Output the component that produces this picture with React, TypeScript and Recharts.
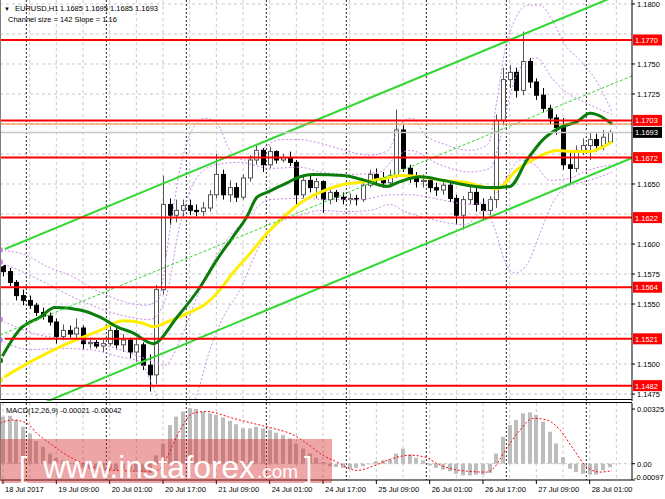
import React from 'react'
import { ComposedChart, Bar, Line, XAxis, YAxis, CartesianGrid, ReferenceLine } from 'recharts'

const FONT = '"Liberation Sans", Arial, sans-serif'

// EURUSD H1, drawn as 2-hour candles; x is hours since 18 Jul 17:00
const open = [1.1582, 1.1577, 1.1568, 1.1557, 1.1553, 1.1549, 1.1543, 1.1540, 1.1535, 1.1523,
  1.1528, 1.1525, 1.1530, 1.1517, 1.1518, 1.1515, 1.1517, 1.1528, 1.1516, 1.1520,
  1.1510, 1.1516, 1.1499, 1.1491, 1.1562, 1.1633, 1.1624, 1.1628, 1.1632, 1.1628,
  1.1627, 1.1630, 1.1641, 1.1658, 1.1641, 1.1647, 1.1639, 1.1655, 1.1670, 1.1678,
  1.1666, 1.1677, 1.1670, 1.1672, 1.1668, 1.1641, 1.1653, 1.1647, 1.1652, 1.1637,
  1.1643, 1.1639, 1.1637, 1.1638, 1.1637, 1.1649, 1.1658, 1.1653, 1.1651, 1.1657,
  1.1695, 1.1663, 1.1655, 1.1652, 1.1653, 1.1647, 1.1645, 1.1649, 1.1638, 1.1624,
  1.1637, 1.1643, 1.1633, 1.1628, 1.1637, 1.1703, 1.1737, 1.1743, 1.1728, 1.1752,
  1.1735, 1.1724, 1.1713, 1.1705, 1.1697, 1.1666, 1.1663, 1.1678, 1.1682, 1.1687,
  1.1682, 1.1685]
const high = [1.1585, 1.1580, 1.1570, 1.1562, 1.1557, 1.1551, 1.1547, 1.1543, 1.1538, 1.1533,
  1.1532, 1.1538, 1.1532, 1.1522, 1.1520, 1.1520, 1.1532, 1.1530, 1.1525, 1.1522,
  1.1522, 1.1518, 1.1508, 1.1566, 1.1657, 1.1638, 1.1637, 1.1637, 1.1637, 1.1633,
  1.1635, 1.1645, 1.1675, 1.1662, 1.1653, 1.1651, 1.1658, 1.1674, 1.1682, 1.1680,
  1.1681, 1.1678, 1.1675, 1.1677, 1.1670, 1.1658, 1.1657, 1.1655, 1.1653, 1.1647,
  1.1645, 1.1643, 1.1642, 1.1641, 1.1652, 1.1662, 1.1663, 1.1660, 1.1662, 1.1712,
  1.1699, 1.1666, 1.1660, 1.1658, 1.1655, 1.1651, 1.1653, 1.1653, 1.1641, 1.1640,
  1.1649, 1.1647, 1.1638, 1.1640, 1.1708, 1.1747, 1.1749, 1.1747, 1.1777, 1.1755,
  1.1738, 1.1730, 1.1716, 1.1708, 1.1705, 1.1677, 1.1682, 1.1688, 1.1693, 1.1692,
  1.1695, 1.1695]
const low = [1.1573, 1.1565, 1.1553, 1.1549, 1.1546, 1.1540, 1.1537, 1.1532, 1.1517, 1.1520,
  1.1522, 1.1520, 1.1512, 1.1513, 1.1513, 1.1510, 1.1515, 1.1512, 1.1510, 1.1505,
  1.1502, 1.1495, 1.1477, 1.1483, 1.1558, 1.1616, 1.1618, 1.1623, 1.1624, 1.1623,
  1.1623, 1.1627, 1.1638, 1.1637, 1.1635, 1.1635, 1.1637, 1.1652, 1.1666, 1.1660,
  1.1663, 1.1667, 1.1668, 1.1665, 1.1631, 1.1638, 1.1643, 1.1638, 1.1626, 1.1633,
  1.1635, 1.1633, 1.1633, 1.1632, 1.1635, 1.1647, 1.1650, 1.1647, 1.1647, 1.1655,
  1.1660, 1.1651, 1.1647, 1.1647, 1.1643, 1.1640, 1.1641, 1.1635, 1.1616, 1.1612,
  1.1633, 1.1627, 1.1620, 1.1624, 1.1630, 1.1699, 1.1730, 1.1722, 1.1724, 1.1730,
  1.1720, 1.1710, 1.1700, 1.1691, 1.1662, 1.1651, 1.1660, 1.1674, 1.1670, 1.1677,
  1.1678, 1.1685]
const close = [1.1577, 1.1568, 1.1557, 1.1553, 1.1549, 1.1543, 1.1540, 1.1535, 1.1523, 1.1528,
  1.1525, 1.1530, 1.1517, 1.1518, 1.1515, 1.1517, 1.1528, 1.1516, 1.1520, 1.1510,
  1.1516, 1.1499, 1.1491, 1.1562, 1.1633, 1.1624, 1.1628, 1.1632, 1.1628, 1.1627,
  1.1630, 1.1641, 1.1658, 1.1641, 1.1647, 1.1639, 1.1655, 1.1670, 1.1678, 1.1666,
  1.1677, 1.1670, 1.1672, 1.1668, 1.1641, 1.1653, 1.1647, 1.1652, 1.1637, 1.1643,
  1.1639, 1.1637, 1.1638, 1.1637, 1.1649, 1.1658, 1.1653, 1.1651, 1.1657, 1.1695,
  1.1663, 1.1655, 1.1652, 1.1653, 1.1647, 1.1645, 1.1649, 1.1638, 1.1624, 1.1637,
  1.1643, 1.1633, 1.1628, 1.1637, 1.1703, 1.1737, 1.1743, 1.1728, 1.1752, 1.1735,
  1.1724, 1.1713, 1.1705, 1.1697, 1.1666, 1.1663, 1.1678, 1.1682, 1.1687, 1.1682,
  1.1689, 1.1693]
const macd = [0.00280, 0.00285, 0.00260, 0.00220, 0.00180, 0.00135, 0.00100, 0.00060, 0.00035, 0.00020,
  0.00005, -0.00010, -0.00025, -0.00030, -0.00035, -0.00040, -0.00035, -0.00040, -0.00040, -0.00045,
  -0.00045, -0.00050, -0.00055, 0.00050, 0.00120, 0.00230, 0.00280, 0.00310, 0.00330, 0.00325,
  0.00310, 0.00300, 0.00290, 0.00275, 0.00255, 0.00235, 0.00210, 0.00210, 0.00220, 0.00210,
  0.00200, 0.00185, 0.00170, 0.00150, 0.00120, 0.00090, 0.00060, 0.00035, 0.00010, -0.00015,
  -0.00020, -0.00025, -0.00030, -0.00025, -0.00015, 0.00000, 0.00015, 0.00020, 0.00025, 0.00060,
  0.00090, 0.00055, 0.00035, 0.00020, -0.00010, -0.00025, -0.00035, -0.00045, -0.00060, -0.00070,
  -0.00070, -0.00065, -0.00065, -0.00055, 0.00060, 0.00160, 0.00230, 0.00260, 0.00300, 0.00305,
  0.00290, 0.00250, 0.00190, 0.00120, 0.00040, -0.00030, -0.00050, -0.00060, -0.00065, -0.00065,
  -0.00040, -0.00021]

// [hour, value] points of the indicator lines
const greenMa = [[-0.9, 1.1503], [5.1, 1.1529], [11.1, 1.1539], [15.6, 1.1547], [23.1, 1.1545], [29.1, 1.1539],
  [34.2, 1.1531], [39, 1.1526], [45, 1.1517], [52.2, 1.1539], [59.1, 1.1564], [64.2, 1.1587], [69, 1.1606],
  [73.2, 1.1623], [76.2, 1.1639], [79.2, 1.1643], [85.2, 1.1651], [89.1, 1.1656], [93, 1.1658], [102, 1.1657],
  [108.6, 1.1653], [115.2, 1.1648], [119.1, 1.1652], [125.1, 1.1656], [132, 1.1653], [139.2, 1.1649],
  [146.1, 1.1647], [152.1, 1.1648], [157.2, 1.1670], [162, 1.1687], [167.1, 1.1697], [172.2, 1.1702],
  [176.1, 1.1709], [182.7, 1.1700]]
const yellowMa = [[-0.9, 1.1487], [9, 1.1503], [19.2, 1.1517], [29.1, 1.1528], [36, 1.1536], [42, 1.1534],
  [45, 1.1531], [49.2, 1.1535], [55.2, 1.1542], [61.2, 1.1551], [65.1, 1.1562], [69, 1.1576], [74.1, 1.1592],
  [79.2, 1.1609], [84, 1.1622], [89.1, 1.1634], [94.2, 1.1642], [101.1, 1.1649], [109.2, 1.1652],
  [115.2, 1.1655], [119.1, 1.1657], [125.1, 1.1656], [132, 1.1653], [139.2, 1.1651], [145.2, 1.1647],
  [148.2, 1.1646], [154.2, 1.1662], [160.2, 1.1672], [166.2, 1.1678], [171, 1.1677], [176.1, 1.1677],
  [180, 1.1681], [182.7, 1.1685]]
const bandUpper = [[-0.9, 1.1595], [6.6, 1.1591], [14.1, 1.1580], [20.1, 1.1574], [27.6, 1.1562], [35.1, 1.1553],
  [42.6, 1.1549], [46.5, 1.1553], [50.1, 1.1612], [53.1, 1.1662], [56.7, 1.1695], [60.6, 1.1705], [64.5, 1.1699],
  [68.1, 1.1678], [72.6, 1.1670], [77.1, 1.1678], [83.1, 1.1687], [89.1, 1.1687], [95.1, 1.1684], [102.6, 1.1678],
  [110.1, 1.1674], [115.5, 1.1678], [119.1, 1.1699], [122.7, 1.1705], [126.6, 1.1691], [132.6, 1.1683],
  [140.1, 1.1678], [145.5, 1.1683], [148.2, 1.1720], [150.6, 1.1762], [153.6, 1.1787], [157.5, 1.1799],
  [161.1, 1.1799], [164.7, 1.1787], [168.6, 1.1766], [173.1, 1.1753], [178.2, 1.1735], [182.7, 1.1710]]
const bandLower = [[-0.9, 1.1520], [8.1, 1.1512], [17.1, 1.1513], [26.1, 1.1512], [35.1, 1.1506], [41.1, 1.1502],
  [44.7, 1.1483], [47.1, 1.1466], [51.6, 1.1449], [57.6, 1.1470], [62.1, 1.1512], [65.7, 1.1537], [71.1, 1.1562],
  [77.1, 1.1599], [83.1, 1.1618], [89.1, 1.1624], [95.1, 1.1628], [102.6, 1.1627], [110.1, 1.1628],
  [116.1, 1.1633], [120.6, 1.1627], [126.6, 1.1622], [132.6, 1.1618], [138.6, 1.1616], [144.6, 1.1628],
  [147.6, 1.1612], [150.6, 1.1585], [153.6, 1.1576], [157.2, 1.1583], [161.1, 1.1609], [164.7, 1.1633],
  [168.6, 1.1647], [173.1, 1.1651], [178.2, 1.1655], [182.7, 1.1660]]
const innerUpper = [[-0.9, 1.1585], [11.1, 1.1570], [23.1, 1.1553], [35.1, 1.1541], [44.1, 1.1537], [48.6, 1.1553],
  [53.1, 1.1616], [57.6, 1.1653], [63.6, 1.1666], [71.1, 1.1668], [80.1, 1.1663], [89.1, 1.1664], [95.1, 1.1660],
  [104.1, 1.1658], [113.1, 1.1660], [117.6, 1.1672], [122.1, 1.1678], [131.1, 1.1666], [140.1, 1.1660],
  [146.1, 1.1663], [149.1, 1.1687], [152.1, 1.1724], [155.7, 1.1749], [160.2, 1.1755], [164.7, 1.1738],
  [169.2, 1.1726], [174.6, 1.1718], [179.1, 1.1712], [182.7, 1.1708]]
const innerLower = [[-0.9, 1.1537], [11.1, 1.1524], [23.1, 1.1520], [35.1, 1.1512], [44.1, 1.1503], [48.6, 1.1499],
  [53.1, 1.1520], [59.1, 1.1562], [65.1, 1.1595], [72.6, 1.1620], [80.1, 1.1637], [89.1, 1.1638], [98.1, 1.1637],
  [107.1, 1.1637], [116.1, 1.1641], [122.1, 1.1641], [131.1, 1.1637], [140.1, 1.1633], [146.1, 1.1637],
  [150.6, 1.1653], [155.1, 1.1670], [159.6, 1.1666], [164.1, 1.1653], [170.1, 1.1655], [176.1, 1.1662],
  [182.7, 1.1666]]
const signal = [[-0.9, 0.0024], [3, 0.0026], [7.2, 0.0024], [10.2, 0.0018], [14.1, 0.0012], [19.2, 0.0005],
  [23.1, 0.0001], [29.1, -0.0003], [34.2, -0.0004], [41.1, -0.00045], [46.2, -0.0004], [49.2, 0.0004],
  [53.1, 0.0020], [57, 0.0030], [61.2, 0.0031], [69, 0.0027], [75, 0.0024], [81, 0.0021], [86.1, 0.0018],
  [91.2, 0.0012], [96, 0.0005], [100.2, 0.0001], [106.2, -0.0004], [111.6, -0.0001], [116.7, 0.0003],
  [122.1, 0.0005], [126.6, 0.0004], [130.2, 0.0], [137.1, -0.0004], [145.2, -0.0005], [147, -0.0003],
  [151.2, 0.00095], [155.1, 0.0020], [159, 0.0027], [163.2, 0.0026], [167.1, 0.0020], [171, 0.0009],
  [175.2, -0.0002], [179.1, -0.0005], [182.7, -0.00042]]

// regression channel ends [hour, price]
const channelUpper = [[-0.9, 1.15942], [188.7, 1.18122]]
const channelMid = [[-0.9, 1.15242], [188.7, 1.174]]
const channelLower = [[-0.9, 1.14525], [188.7, 1.16717]]

const levels = [1.177, 1.1703, 1.1672, 1.1622, 1.1564, 1.1521, 1.1482]
const priceGrid = [1.1475, 1.15, 1.1525, 1.155, 1.1575, 1.16, 1.1625, 1.165, 1.1675, 1.17, 1.1725, 1.175, 1.1775, 1.18]
const priceTicks = [1.18, 1.175, 1.1725, 1.165, 1.16, 1.1575, 1.155, 1.15, 1.1475]
const gridHours = [0, 8, 16, 24, 32, 40, 48, 56, 64, 72, 80, 88, 96, 104, 112, 120, 128, 136, 144, 152, 160, 168, 176, 184]
const dayHours = [7, 31, 55, 79, 103, 127, 151, 175]
const timeTicks = [0, 16, 32, 48, 64, 80, 96, 112, 128, 144, 160, 176]
const timeLabels = ['18 Jul 2017', '19 Jul 09:00', '20 Jul 01:00', '20 Jul 17:00', '21 Jul 09:00', '24 Jul 01:00',
  '24 Jul 17:00', '25 Jul 09:00', '26 Jul 01:00', '26 Jul 17:00', '27 Jul 09:00', '28 Jul 01:00']
const macdTicks = [0.00325, 0, -0.00097]

const candles = open.map((o, i) => ({ h: i * 2, open: o, high: high[i], low: low[i], close: close[i], macd: macd[i] }))
const pts = (arr: number[][]) => arr.map(([h, v]) => ({ h, v }))
const seg = (arr: number[][]) => arr.map(([h, v]) => ({ x: h, y: v })) as any

const DOMAIN_X: [number, number] = [-0.9, 188.7]

function Candle(props: any) {
  const { x, y, width, height, payload } = props
  if (x == null || !payload) return null
  const top = Math.min(y, y + height)
  const span = Math.abs(height)
  const k = payload.high > payload.low ? span / (payload.high - payload.low) : 0
  const py = (v: number) => top + (payload.high - v) * k
  const cx = Math.round(x + width / 2) + 0.5
  const bull = payload.close >= payload.open
  const bTop = py(Math.max(payload.open, payload.close))
  const bBot = py(Math.min(payload.open, payload.close))
  return (
    <g>
      <line x1={cx} x2={cx} y1={top} y2={top + span} stroke={bull ? '#555' : '#000'} />
      <rect x={cx - 2} y={bTop} width={4} height={Math.max(1, bBot - bTop)}
        fill={bull ? '#fff' : '#000'} stroke={bull ? '#555' : '#000'} />
    </g>
  )
}

function MacdBar(props: any) {
  const { x, y, width, height } = props
  if (x == null || y == null) return null
  const top = Math.min(y, y + height)
  const cx = Math.round(x + width / 2)
  return <rect x={cx - 2} y={top} width={4} height={Math.max(0.5, Math.abs(height))} fill="#bdbdbd" />
}

const tag = (fill: string, text: string) => (props: any) => {
  const vb = props.viewBox || {}
  const x = (vb.x || 0) + (vb.width || 0) + 1
  const y = vb.y || 0
  return (
    <g>
      <rect x={x} y={y - 5.5} width={29} height={11} fill={fill} />
      <text x={x + 2} y={y + 3} fontSize={7.5} fill="#fff" fontFamily={FONT}>{text}</text>
    </g>
  )
}

function TimeTick(props: any) {
  const { x, y, payload } = props
  const i = timeTicks.indexOf(payload.value)
  return (
    <text x={x + 2} y={y + 7} fontSize={7.5} fontFamily={FONT} fill="#000" textAnchor="start">
      {timeLabels[i]}
    </text>
  )
}

function MacdTick(props: any) {
  const { x, y, payload } = props
  const v = payload.value
  const txt = v === 0 ? '0.00' : v.toFixed(5)
  return (
    <text x={v < 0 ? x - 3 : x} y={v < 0 ? y : y + 3} fontSize={7.5} fontFamily={FONT} fill="#000" textAnchor="start">{txt}</text>
  )
}

export default function App() {
  const axisTick = { fontSize: 7.5, fontFamily: FONT, fill: '#000' }
  return (
    <div style={{ position: 'absolute', left: 0, top: 0, width: 665, height: 499, background: '#fff', overflow: 'hidden' }}>
      <div style={{ position: 'absolute', left: 0, top: 0 }}>
        <ComposedChart width={665} height={401} data={candles} margin={{ top: 0, right: 0, bottom: 0, left: 0 }}>
          <XAxis type="number" dataKey="h" domain={DOMAIN_X} allowDataOverflow hide />
          <YAxis orientation="right" type="number" domain={[1.14692, 1.18033]} allowDataOverflow width={33}
            ticks={priceTicks} interval={0} tickFormatter={(v: number) => v.toFixed(4)} tick={axisTick}
            tickSize={3} tickMargin={2} axisLine={{ stroke: '#000' }} tickLine={{ stroke: '#000' }} />
          <CartesianGrid stroke="#c8c8c8" strokeDasharray="3 3" horizontalValues={priceGrid} verticalValues={gridHours} />
          <CartesianGrid stroke="#222" strokeDasharray="2 2" horizontal={false} verticalValues={dayHours} />
          <Bar dataKey={(d: any) => [d.low, d.high]} barSize={4} shape={<Candle />} isAnimationActive={false} />
          <Line data={pts(bandUpper)} dataKey="v" type="monotone" stroke="#c98ae8" strokeDasharray="2 2" strokeWidth={1} dot={false} isAnimationActive={false} />
          <Line data={pts(bandLower)} dataKey="v" type="monotone" stroke="#c98ae8" strokeDasharray="2 2" strokeWidth={1} dot={false} isAnimationActive={false} />
          <Line data={pts(innerUpper)} dataKey="v" type="monotone" stroke="#c98ae8" strokeDasharray="2 2" strokeWidth={1} dot={false} isAnimationActive={false} />
          <Line data={pts(innerLower)} dataKey="v" type="monotone" stroke="#c98ae8" strokeDasharray="2 2" strokeWidth={1} dot={false} isAnimationActive={false} />
          <Line data={pts(yellowMa)} dataKey="v" type="monotone" stroke="#ffee00" strokeWidth={3} dot={false} isAnimationActive={false} />
          <Line data={pts(greenMa)} dataKey="v" type="monotone" stroke="#0b7d0b" strokeWidth={3} dot={false} isAnimationActive={false} />
          <ReferenceLine segment={seg(channelUpper)} stroke="#2ed82e" strokeWidth={2} ifOverflow="hidden" />
          <ReferenceLine segment={seg(channelMid)} stroke="#2ed82e" strokeWidth={1} strokeDasharray="3 2" ifOverflow="hidden" />
          <ReferenceLine segment={seg(channelLower)} stroke="#2ed82e" strokeWidth={2} ifOverflow="hidden" />
          <ReferenceLine y={1.17} stroke="#ff7f27" strokeWidth={1} />
          <ReferenceLine y={1.1693} stroke="#c8c8c8" strokeWidth={1.5} label={tag('#000', '1.1693')} />
          {levels.map((lv) => (
            <ReferenceLine key={lv} y={lv} stroke="#ff0000" strokeWidth={2} label={tag('#ff0000', lv.toFixed(4))} />
          ))}
        </ComposedChart>
      </div>
      <div style={{ position: 'absolute', left: 0, top: 402 }}>
        <ComposedChart width={665} height={97} data={candles} margin={{ top: 1, right: 0, bottom: 0, left: 0 }}>
          <XAxis type="number" dataKey="h" domain={DOMAIN_X} allowDataOverflow ticks={timeTicks} interval={0}
            height={19} tick={<TimeTick />} tickSize={4} tickMargin={1}
            axisLine={{ stroke: '#000' }} tickLine={{ stroke: '#000' }} />
          <YAxis orientation="right" type="number" domain={[-0.00097, 0.00361]} allowDataOverflow width={33}
            ticks={macdTicks} interval={0} tick={<MacdTick />} tickSize={3} tickMargin={2}
            axisLine={{ stroke: '#000' }} tickLine={{ stroke: '#000' }} />
          <CartesianGrid stroke="#c8c8c8" strokeDasharray="3 3" horizontalValues={[0]} verticalValues={gridHours} />
          <CartesianGrid stroke="#222" strokeDasharray="2 2" horizontal={false} verticalValues={dayHours} />
          <Bar dataKey="macd" barSize={4} shape={<MacdBar />} isAnimationActive={false} />
          <Line data={pts(signal)} dataKey="v" type="monotone" stroke="#ff0000" strokeDasharray="2 2" strokeWidth={1} dot={false} isAnimationActive={false} />
        </ComposedChart>
      </div>
      {/* pane frames */}
      <div style={{ position: 'absolute', left: 0, top: 0, width: 632, height: 400, borderLeft: '1px solid #808080', borderBottom: '1px solid #000', boxSizing: 'border-box', pointerEvents: 'none' }} />
      <div style={{ position: 'absolute', left: 0, top: 402, width: 632, height: 79, borderLeft: '1px solid #808080', borderTop: '1px solid #000', boxSizing: 'border-box', pointerEvents: 'none' }} />
      <svg width={665} height={499} style={{ position: 'absolute', left: 0, top: 0, pointerEvents: 'none' }}>
        <g fontFamily={FONT} fontSize={7.5} fill="#000">
          <text x={4} y={11} fontSize={6}>▼</text>
          <text x={15} y={11}>EURUSD,H1</text>
          <text x={60} y={11}>1.1685 1.1695 1.1685 1.1693</text>
          <text x={8} y={22}>Channel size = 142 Slope = 1.16</text>
          <text x={6} y={413}>MACD(12,26,9) -0.00021 -0.00042</text>
        </g>
        <rect x={1} y={439} width={331} height={44} fill="rgba(214, 40, 40, 0.42)" />
        <g fontFamily={FONT} fill="#fff">
          <text x={19} y={478} fontSize={30}>[</text>
          <text x={43} y={478} fontSize={31.5}>www.instaforex</text>
          <text x={257} y={478} fontSize={19}>.com</text>
          <text x={304} y={478} fontSize={30}>]</text>
        </g>
      </svg>
    </div>
  )
}
